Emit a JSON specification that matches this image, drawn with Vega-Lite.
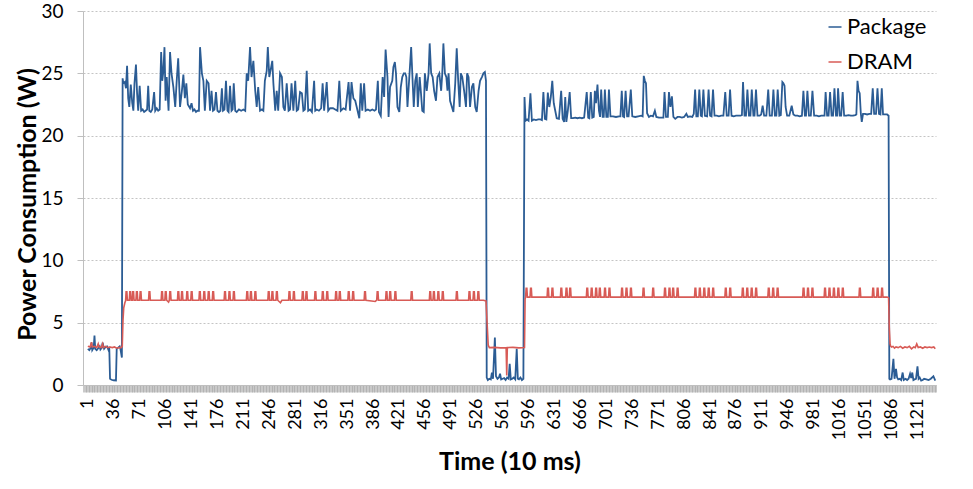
{
  "$schema": "https://vega.github.io/schema/vega-lite/v6.json",
  "width": 853,
  "height": 374,
  "autosize": {"type": "none"},
  "padding": {"left": 83, "top": 11, "right": 37, "bottom": 104},
  "background": "white",
  "config": {"font": "Lato", "view": {"stroke": null}},
  "datasets": {
    "pkg": [
      {"t":1,"v":2.9},{"t":3,"v":2.8},{"t":5,"v":3.0},{"t":6,"v":3.4},{"t":7,"v":2.8},{"t":9,"v":3.0},{"t":10,"v":3.97},{"t":11,"v":2.9},{"t":13,"v":2.8},{"t":15,"v":2.95},{"t":17,"v":3.1},{"t":18,"v":2.85},{"t":20,"v":3.0},{"t":21,"v":3.4},{"t":23,"v":2.9},{"t":25,"v":3.05},{"t":27,"v":3.1},{"t":29,"v":2.8},{"t":30,"v":2.9},{"t":31,"v":0.5},{"t":33,"v":0.42},{"t":36,"v":0.38},{"t":39,"v":0.36},{"t":40,"v":2.9},{"t":42,"v":3.0},{"t":44,"v":3.1},{"t":45,"v":2.9},{"t":47,"v":2.2},
      {"t":48,"v":24.6},{"t":49,"v":24.2},{"t":51,"v":24.3},{"t":52.5,"v":23.8},{"t":54,"v":25.6},{"t":55.5,"v":23.0},{"t":57,"v":22.3},{"t":59,"v":24.1},{"t":61,"v":22.6},{"t":62.5,"v":22.0},{"t":64,"v":24.2},{"t":66,"v":25.7},{"t":67.5,"v":23.4},{"t":69,"v":22.0},{"t":71,"v":24.0},{"t":73,"v":22.0},{"t":75,"v":22.1},{"t":77,"v":21.9},{"t":79,"v":22.0},{"t":81,"v":22.1},{"t":82.5,"v":24.0},{"t":84,"v":22.0},{"t":86,"v":21.9},{"t":88,"v":22.1},{"t":90.5,"v":23.5},{"t":92,"v":22.0},{"t":94,"v":22.2},{"t":96,"v":22.0},{"t":98,"v":22.1},
      {"t":100,"v":26.7},{"t":101.5,"v":24.4},{"t":103,"v":25.2},{"t":104.5,"v":27.1},{"t":106,"v":22.8},{"t":107.5,"v":24.7},{"t":110,"v":22.0},{"t":112,"v":26.7},{"t":114,"v":25.0},{"t":116.5,"v":23.9},{"t":119,"v":22.3},{"t":121,"v":24.4},{"t":123,"v":26.2},{"t":125.5,"v":22.3},{"t":128,"v":23.6},{"t":130,"v":24.9},{"t":132,"v":23.0},{"t":134,"v":24.2},{"t":136,"v":22.5},{"t":139,"v":22.2},{"t":141,"v":22.6},{"t":143,"v":22.0},{"t":145,"v":22.1},{"t":147,"v":21.9},{"t":149,"v":22.0},{"t":151,"v":22.0},
      {"t":152.5,"v":27.1},{"t":155,"v":25.0},{"t":157,"v":24.4},{"t":159,"v":22.0},{"t":161.5,"v":24.4},{"t":164,"v":24.2},{"t":166,"v":22.0},{"t":168,"v":23.6},{"t":170,"v":22.0},{"t":172,"v":22.1},{"t":174,"v":23.5},{"t":176,"v":22.0},{"t":178,"v":21.9},{"t":180,"v":22.0},{"t":182,"v":23.8},{"t":183.5,"v":22.0},{"t":185.5,"v":22.1},{"t":187.5,"v":24.4},{"t":189.5,"v":22.0},{"t":191,"v":21.9},{"t":193,"v":24.0},{"t":195,"v":22.0},{"t":196.5,"v":22.1},{"t":198,"v":24.2},{"t":200,"v":22.0},{"t":202,"v":21.9},{"t":205,"v":22.1},{"t":208,"v":22.0},{"t":211,"v":22.1},{"t":213.5,"v":22.0},
      {"t":215.5,"v":25.0},{"t":217.5,"v":24.4},{"t":220,"v":27.1},{"t":222,"v":24.7},{"t":224.5,"v":26.0},{"t":227,"v":23.6},{"t":229,"v":22.3},{"t":231,"v":23.9},{"t":233.5,"v":22.0},{"t":236,"v":22.1},{"t":238,"v":22.0},{"t":240,"v":24.4},{"t":242.5,"v":25.2},{"t":244,"v":27.1},{"t":246,"v":24.7},{"t":248.5,"v":25.5},{"t":250,"v":26.0},{"t":251.5,"v":24.2},{"t":254,"v":22.0},{"t":256,"v":23.6},{"t":258,"v":22.0},{"t":260.5,"v":25.0},{"t":263,"v":24.7},{"t":265,"v":22.3},{"t":267,"v":22.0},{"t":269.5,"v":24.2},{"t":272,"v":22.0},{"t":274,"v":22.1},{"t":276,"v":24.2},{"t":278.5,"v":22.0},{"t":281,"v":24.4},{"t":283,"v":22.0},{"t":285,"v":22.1},{"t":287.5,"v":23.5},{"t":290,"v":23.4},{"t":292,"v":22.0},{"t":294,"v":22.1},{"t":296.5,"v":25.2},{"t":298.5,"v":22.0},
      {"t":301,"v":22.1},{"t":303.5,"v":21.9},{"t":306.5,"v":24.4},{"t":308,"v":22.0},{"t":310,"v":22.1},{"t":313,"v":22.0},{"t":316,"v":22.2},{"t":318,"v":24.2},{"t":320,"v":22.0},{"t":323.5,"v":24.3},{"t":325.5,"v":22.0},{"t":328,"v":22.2},{"t":332,"v":22.2},{"t":335,"v":22.1},{"t":338,"v":22.0},{"t":340.5,"v":24.4},{"t":342.5,"v":22.0},{"t":346,"v":22.2},{"t":349,"v":22.1},{"t":353,"v":24.3},{"t":355,"v":22.0},{"t":357,"v":24.3},{"t":359.5,"v":23.0},{"t":362,"v":22.8},{"t":364,"v":22.3},{"t":367.5,"v":21.4},{"t":369.5,"v":24.2},{"t":371.5,"v":22.0},{"t":374,"v":24.2},{"t":376,"v":22.0},{"t":379,"v":22.1},{"t":382,"v":22.0},{"t":385,"v":22.1},{"t":388,"v":22.0},{"t":390,"v":22.1},
      {"t":392.5,"v":24.4},{"t":394,"v":21.9},{"t":396.5,"v":21.6},{"t":399,"v":24.7},{"t":401,"v":23.1},{"t":403,"v":26.9},{"t":405.5,"v":24.7},{"t":407,"v":21.5},{"t":409,"v":23.9},{"t":412,"v":24.4},{"t":413.5,"v":25.5},{"t":415.5,"v":25.9},{"t":417,"v":25.0},{"t":419,"v":22.3},{"t":421.5,"v":21.9},{"t":423.5,"v":23.9},{"t":425.5,"v":24.7},{"t":427.5,"v":25.0},{"t":429.5,"v":25.0},{"t":431,"v":24.7},{"t":432.5,"v":22.3},{"t":435,"v":24.7},{"t":437.5,"v":27.1},{"t":439,"v":25.0},{"t":441,"v":22.3},{"t":443,"v":24.4},{"t":445,"v":25.0},{"t":446.5,"v":22.3},{"t":449,"v":24.7},{"t":450.5,"v":23.6},{"t":452.5,"v":22.0},{"t":454.5,"v":21.9},{"t":456,"v":25.0},{"t":458.5,"v":23.6},{"t":461,"v":25.0},{"t":462.5,"v":27.4},{"t":464.5,"v":25.0},{"t":466.5,"v":24.7},{"t":468.5,"v":23.6},{"t":471,"v":22.8},{"t":473,"v":24.7},{"t":475.5,"v":25.0},{"t":478,"v":23.6},{"t":479.5,"v":25.0},{"t":481,"v":27.4},{"t":483,"v":25.0},{"t":485,"v":24.7},{"t":486.5,"v":23.6},{"t":488,"v":25.0},{"t":490,"v":22.8},{"t":492.5,"v":22.3},{"t":494.5,"v":21.9},{"t":497,"v":24.2},{"t":499,"v":27.0},{"t":501,"v":24.4},{"t":503,"v":22.3},{"t":504.5,"v":25.0},{"t":506.5,"v":24.7},{"t":509,"v":23.6},{"t":511.5,"v":22.3},{"t":513,"v":25.0},{"t":515,"v":24.7},{"t":517,"v":22.3},{"t":519.5,"v":23.9},{"t":521.5,"v":24.2},{"t":524,"v":22.3},{"t":526,"v":21.9},{"t":528.5,"v":23.6},{"t":530.5,"v":24.4},{"t":533,"v":24.7},{"t":535,"v":25.0},{"t":537,"v":25.1},{"t":538.5,"v":24.4},
      {"t":539.5,"v":0.6},{"t":541,"v":0.4},{"t":543,"v":0.5},{"t":545,"v":0.45},{"t":546.5,"v":1.0},{"t":548,"v":0.5},{"t":550.5,"v":3.8},{"t":552,"v":0.7},{"t":554,"v":0.5},{"t":556,"v":0.6},{"t":557.5,"v":0.9},{"t":559,"v":0.45},{"t":561,"v":0.5},{"t":563,"v":0.55},{"t":565,"v":0.4},{"t":567,"v":0.6},{"t":569,"v":0.5},{"t":570.5,"v":1.7},{"t":572,"v":0.45},{"t":574,"v":0.5},{"t":576,"v":0.6},{"t":578,"v":0.45},{"t":580,"v":2.9},{"t":581.5,"v":0.5},{"t":583,"v":0.45},{"t":585,"v":0.6},{"t":587,"v":0.4},{"t":589,"v":0.5},
      {"t":590.5,"v":23.1},{"t":592,"v":21.2},{"t":594,"v":21.3},{"t":596,"v":21.2},{"t":598.5,"v":23.4},{"t":600.5,"v":21.2},{"t":603,"v":21.3},{"t":606,"v":21.25},{"t":609,"v":21.3},{"t":612,"v":21.3},{"t":614,"v":21.25},{"t":616,"v":23.5},{"t":618,"v":21.35},{"t":620,"v":21.3},{"t":622,"v":23.45},{"t":624,"v":22.3},{"t":626,"v":23.1},{"t":628,"v":24.4},{"t":630,"v":22.6},{"t":632,"v":22.0},{"t":634,"v":21.4},{"t":637,"v":21.35},{"t":640,"v":23.6},{"t":642,"v":21.35},{"t":644,"v":21.1},{"t":645.5,"v":23.1},{"t":647,"v":21.1},{"t":649,"v":22.0},{"t":651.5,"v":23.5},{"t":653.5,"v":21.4},{"t":656,"v":21.4},{"t":659,"v":21.45},{"t":662,"v":21.4},{"t":665,"v":21.45},{"t":668,"v":21.4},{"t":671,"v":21.45},{"t":674.5,"v":23.5},{"t":676.5,"v":21.45},{"t":678,"v":21.4},{"t":680,"v":23.5},{"t":682,"v":21.45},{"t":684,"v":21.5},{"t":685.5,"v":23.6},{"t":687,"v":22.6},{"t":689,"v":24.1},{"t":691,"v":22.0},{"t":692.5,"v":21.5},{"t":694,"v":23.7},{"t":696,"v":21.5},{"t":697.5,"v":21.5},{"t":699,"v":23.7},{"t":701,"v":21.5},{"t":703,"v":21.5},{"t":704.5,"v":23.7},{"t":706.5,"v":21.55},{"t":710,"v":21.55},{"t":714,"v":21.5},{"t":718,"v":21.55},{"t":720,"v":21.55},{"t":721.8,"v":23.6},{"t":723.5,"v":21.55},{"t":725,"v":21.5},{"t":727,"v":23.6},{"t":729,"v":21.55},{"t":731,"v":21.55},{"t":734,"v":23.7},{"t":736,"v":21.55},{"t":740,"v":21.5},{"t":744,"v":21.55},{"t":748,"v":21.6},{"t":750,"v":21.55},{"t":751.5,"v":24.8},{"t":753,"v":24.4},{"t":754.5,"v":24.2},{"t":756,"v":21.8},{"t":758.5,"v":21.5},{"t":761,"v":21.6},{"t":764,"v":21.55},{"t":766.5,"v":22.0},{"t":768.5,"v":21.5},{"t":772,"v":21.45},{"t":776,"v":21.45},{"t":778,"v":21.45},{"t":779.5,"v":23.5},{"t":781.5,"v":21.5},{"t":784,"v":21.5},{"t":785.5,"v":23.5},{"t":787.5,"v":22.3},{"t":789.5,"v":23.15},{"t":791.5,"v":21.5},{"t":794,"v":21.35},{"t":797,"v":21.5},{"t":800,"v":21.5},{"t":803,"v":21.45},{"t":806,"v":21.5},{"t":809,"v":21.75},{"t":811,"v":21.5},{"t":814,"v":21.55},{"t":817,"v":21.5},{"t":819,"v":21.75},{"t":820.8,"v":23.7},{"t":822.5,"v":21.55},{"t":824.5,"v":21.55},{"t":826.5,"v":23.7},{"t":828.5,"v":21.6},{"t":830,"v":21.55},{"t":832,"v":23.7},{"t":834,"v":21.6},{"t":837,"v":21.55},{"t":839,"v":23.7},{"t":841,"v":21.6},{"t":843,"v":21.55},{"t":845,"v":23.7},{"t":847,"v":21.6},{"t":850,"v":21.6},{"t":853,"v":21.55},{"t":856,"v":21.6},{"t":859,"v":21.6},{"t":861.5,"v":23.5},{"t":863.5,"v":21.6},{"t":866,"v":21.6},{"t":868,"v":23.7},{"t":870,"v":21.6},{"t":873,"v":21.55},{"t":876,"v":21.6},{"t":879,"v":21.6},{"t":882,"v":21.6},{"t":884,"v":21.65},{"t":885.5,"v":24.3},{"t":887.5,"v":21.6},{"t":889.5,"v":21.6},{"t":891.4,"v":23.7},{"t":893.5,"v":21.6},{"t":895.5,"v":21.6},{"t":897.3,"v":23.7},{"t":899.5,"v":21.6},{"t":901,"v":21.6},{"t":903,"v":23.7},{"t":905,"v":21.6},{"t":908,"v":21.6},{"t":910,"v":21.7},{"t":912,"v":22.4},{"t":914,"v":21.6},{"t":917,"v":21.6},{"t":919.5,"v":23.7},{"t":921.5,"v":21.6},{"t":924.5,"v":21.6},{"t":926.5,"v":23.7},{"t":928.5,"v":21.6},{"t":930.5,"v":21.6},{"t":932.3,"v":23.7},{"t":934.5,"v":21.6},{"t":936.5,"v":21.65},{"t":938.6,"v":24.3},{"t":940,"v":24.2},{"t":941.5,"v":24.0},{"t":943,"v":22.3},{"t":945,"v":21.6},{"t":948,"v":21.6},{"t":951.2,"v":22.4},{"t":953.5,"v":21.7},{"t":956,"v":21.6},{"t":959,"v":21.6},{"t":962,"v":21.55},{"t":965,"v":21.6},{"t":967,"v":23.6},{"t":969,"v":21.6},{"t":970.5,"v":21.6},{"t":972.4,"v":23.6},{"t":974.5,"v":21.6},{"t":977,"v":21.6},{"t":979.2,"v":23.6},{"t":981.5,"v":21.6},{"t":985,"v":21.6},{"t":988,"v":21.55},{"t":991,"v":21.6},{"t":994,"v":21.6},{"t":995.5,"v":21.6},{"t":997,"v":23.5},{"t":999,"v":21.6},{"t":1001,"v":21.6},{"t":1003,"v":23.5},{"t":1005,"v":21.6},{"t":1007,"v":21.6},{"t":1008.9,"v":23.8},{"t":1011,"v":21.6},{"t":1012.5,"v":21.6},{"t":1013.8,"v":23.8},{"t":1016,"v":21.6},{"t":1018,"v":21.6},{"t":1020,"v":23.5},{"t":1022,"v":21.6},{"t":1025,"v":21.6},{"t":1028,"v":21.65},{"t":1031,"v":21.6},{"t":1034,"v":21.6},{"t":1037,"v":21.65},{"t":1038.5,"v":21.7},{"t":1040,"v":24.4},{"t":1041.5,"v":23.6},{"t":1043,"v":23.4},{"t":1044.5,"v":21.8},{"t":1045.8,"v":21.1},{"t":1047.5,"v":21.75},{"t":1050,"v":21.75},{"t":1053,"v":21.7},{"t":1056,"v":21.75},{"t":1058.5,"v":21.75},{"t":1060.6,"v":23.8},{"t":1062.5,"v":21.75},{"t":1065,"v":21.75},{"t":1067,"v":23.8},{"t":1069,"v":21.75},{"t":1071,"v":21.7},{"t":1072.8,"v":23.8},{"t":1074.5,"v":21.7},{"t":1077,"v":21.7},{"t":1080,"v":21.7},{"t":1082,"v":21.6},
      {"t":1083,"v":0.5},{"t":1084,"v":0.45},{"t":1086,"v":0.5},{"t":1088.5,"v":2.1},{"t":1090,"v":0.5},{"t":1092,"v":1.3},{"t":1093.5,"v":0.6},{"t":1095,"v":0.45},{"t":1097,"v":0.5},{"t":1099,"v":0.4},{"t":1101,"v":1.0},{"t":1102.5,"v":0.4},{"t":1105,"v":0.5},{"t":1107,"v":0.4},{"t":1109,"v":0.5},{"t":1111,"v":0.9},{"t":1112.5,"v":0.55},{"t":1114,"v":1.0},{"t":1115.5,"v":0.4},{"t":1117,"v":0.45},{"t":1119,"v":0.5},{"t":1121,"v":1.5},{"t":1122.5,"v":0.5},{"t":1124,"v":0.6},{"t":1126,"v":0.35},{"t":1128,"v":0.4},{"t":1130,"v":0.5},{"t":1133,"v":0.45},{"t":1136,"v":0.4},{"t":1139,"v":0.5},{"t":1142.5,"v":0.7},{"t":1145,"v":0.35}
    ],
    "dram": [
      {"t":1,"v":3.1},{"t":4,"v":3.05},{"t":6,"v":3.44},{"t":7,"v":3.05},{"t":10,"v":3.1},{"t":13,"v":3.0},{"t":15,"v":3.3},{"t":16,"v":3.05},{"t":19,"v":3.0},{"t":21,"v":3.3},{"t":22,"v":3.0},{"t":25,"v":3.1},{"t":28,"v":3.0},{"t":31,"v":3.05},{"t":34,"v":3.0},{"t":37,"v":3.05},{"t":40,"v":2.95},{"t":43,"v":3.0},{"t":46,"v":3.0},{"t":47.5,"v":3.1},{"t":48.5,"v":5.2},{"t":49.5,"v":6.2},{"t":51,"v":6.6},
      {"t":52,"v":6.75},{"t":52.7,"v":7.48},{"t":53.7,"v":7.48},{"t":54.4,"v":6.8},
      {"t":57,"v":6.8},{"t":57.7,"v":7.48},{"t":58.7,"v":7.48},{"t":59.4,"v":6.8},
      {"t":61,"v":6.8},{"t":61.7,"v":7.48},{"t":62.7,"v":7.48},{"t":63.4,"v":6.8},
      {"t":66,"v":6.8},{"t":66.7,"v":7.48},{"t":67.7,"v":7.48},{"t":68.4,"v":6.8},
      {"t":71,"v":6.8},{"t":71.7,"v":7.48},{"t":72.7,"v":7.48},{"t":73.4,"v":6.8},
      {"t":83,"v":6.8},{"t":83.7,"v":7.48},{"t":84.7,"v":7.48},{"t":85.4,"v":6.8},
      {"t":100,"v":6.8},{"t":100.7,"v":7.48},{"t":101.7,"v":7.48},{"t":102.4,"v":6.8},
      {"t":105,"v":6.8},{"t":105.7,"v":7.48},{"t":106.7,"v":7.48},{"t":107.4,"v":6.8},
      {"t":110,"v":6.65},
      {"t":111,"v":6.8},{"t":111.7,"v":7.48},{"t":112.7,"v":7.48},{"t":113.4,"v":6.8},
      {"t":122,"v":6.8},{"t":122.7,"v":7.48},{"t":123.7,"v":7.48},{"t":124.4,"v":6.8},
      {"t":127,"v":6.8},{"t":127.7,"v":7.48},{"t":128.7,"v":7.48},{"t":129.4,"v":6.8},
      {"t":134,"v":6.8},{"t":134.7,"v":7.48},{"t":135.7,"v":7.48},{"t":136.4,"v":6.8},
      {"t":140,"v":6.8},{"t":140.7,"v":7.48},{"t":141.7,"v":7.48},{"t":142.4,"v":6.8},
      {"t":151,"v":6.8},{"t":151.7,"v":7.48},{"t":152.7,"v":7.48},{"t":153.4,"v":6.8},
      {"t":157,"v":6.8},{"t":157.7,"v":7.48},{"t":158.7,"v":7.48},{"t":159.4,"v":6.8},
      {"t":163,"v":6.8},{"t":163.7,"v":7.48},{"t":164.7,"v":7.48},{"t":165.4,"v":6.8},
      {"t":169,"v":6.8},{"t":169.7,"v":7.48},{"t":170.7,"v":7.48},{"t":171.4,"v":6.8},
      {"t":185,"v":6.8},{"t":185.7,"v":7.48},{"t":186.7,"v":7.48},{"t":187.4,"v":6.8},
      {"t":191,"v":6.8},{"t":191.7,"v":7.48},{"t":192.7,"v":7.48},{"t":193.4,"v":6.8},
      {"t":197,"v":6.8},{"t":197.7,"v":7.48},{"t":198.7,"v":7.48},{"t":199.4,"v":6.8},
      {"t":215,"v":6.8},{"t":215.7,"v":7.48},{"t":216.7,"v":7.48},{"t":217.4,"v":6.8},
      {"t":220,"v":6.8},{"t":220.7,"v":7.48},{"t":221.7,"v":7.48},{"t":222.4,"v":6.8},
      {"t":226,"v":6.8},{"t":226.7,"v":7.48},{"t":227.7,"v":7.48},{"t":228.4,"v":6.8},
      {"t":244,"v":6.8},{"t":244.7,"v":7.48},{"t":245.7,"v":7.48},{"t":246.4,"v":6.8},
      {"t":249,"v":6.8},{"t":249.7,"v":7.48},{"t":250.7,"v":7.48},{"t":251.4,"v":6.8},
      {"t":255,"v":6.8},{"t":255.7,"v":7.48},{"t":256.7,"v":7.48},{"t":257.4,"v":6.8},
      {"t":261,"v":6.6},{"t":263,"v":6.8},
      {"t":272,"v":6.8},{"t":272.7,"v":7.48},{"t":273.7,"v":7.48},{"t":274.4,"v":6.8},
      {"t":278,"v":6.8},{"t":278.7,"v":7.48},{"t":279.7,"v":7.48},{"t":280.4,"v":6.8},
      {"t":290,"v":6.8},{"t":290.7,"v":7.48},{"t":291.7,"v":7.48},{"t":292.4,"v":6.8},
      {"t":295,"v":6.8},{"t":295.7,"v":7.48},{"t":296.7,"v":7.48},{"t":297.4,"v":6.8},
      {"t":307,"v":6.8},{"t":307.7,"v":7.48},{"t":308.7,"v":7.48},{"t":309.4,"v":6.8},
      {"t":317,"v":6.8},{"t":317.7,"v":7.48},{"t":318.7,"v":7.48},{"t":319.4,"v":6.8},
      {"t":323,"v":6.8},{"t":323.7,"v":7.48},{"t":324.7,"v":7.48},{"t":325.4,"v":6.8},
      {"t":335,"v":6.8},{"t":335.7,"v":7.48},{"t":336.7,"v":7.48},{"t":337.4,"v":6.8},
      {"t":340,"v":6.8},{"t":340.7,"v":7.48},{"t":341.7,"v":7.48},{"t":342.4,"v":6.8},
      {"t":352,"v":6.8},{"t":352.7,"v":7.48},{"t":353.7,"v":7.48},{"t":354.4,"v":6.8},
      {"t":358,"v":6.8},{"t":358.7,"v":7.48},{"t":359.7,"v":7.48},{"t":360.4,"v":6.8},
      {"t":374,"v":6.8},{"t":374.7,"v":7.48},{"t":375.7,"v":7.48},{"t":376.4,"v":6.8},
      {"t":389,"v":6.7},
      {"t":391,"v":6.8},{"t":391.7,"v":7.48},{"t":392.7,"v":7.48},{"t":393.4,"v":6.8},
      {"t":403,"v":6.8},{"t":403.7,"v":7.48},{"t":404.7,"v":7.48},{"t":405.4,"v":6.8},
      {"t":408,"v":6.8},{"t":408.7,"v":7.48},{"t":409.7,"v":7.48},{"t":410.4,"v":6.8},
      {"t":415,"v":6.8},{"t":415.7,"v":7.48},{"t":416.7,"v":7.48},{"t":417.4,"v":6.8},
      {"t":437,"v":6.8},{"t":437.7,"v":7.48},{"t":438.7,"v":7.48},{"t":439.4,"v":6.8},
      {"t":462,"v":6.8},{"t":462.7,"v":7.48},{"t":463.7,"v":7.48},{"t":464.4,"v":6.8},
      {"t":467,"v":6.8},{"t":467.7,"v":7.48},{"t":468.7,"v":7.48},{"t":469.4,"v":6.8},
      {"t":473,"v":6.8},{"t":473.7,"v":7.48},{"t":474.7,"v":7.48},{"t":475.4,"v":6.8},
      {"t":479,"v":6.8},{"t":479.7,"v":7.48},{"t":480.7,"v":7.48},{"t":481.4,"v":6.8},
      {"t":498,"v":6.8},{"t":498.7,"v":7.48},{"t":499.7,"v":7.48},{"t":500.4,"v":6.8},
      {"t":515,"v":6.8},{"t":515.7,"v":7.48},{"t":516.7,"v":7.48},{"t":517.4,"v":6.8},
      {"t":521,"v":6.8},{"t":521.7,"v":7.48},{"t":522.7,"v":7.48},{"t":523.4,"v":6.8},
      {"t":527,"v":6.8},{"t":527.7,"v":7.48},{"t":528.7,"v":7.48},{"t":529.4,"v":6.8},
      {"t":535,"v":6.8},{"t":538.5,"v":6.75},{"t":540,"v":5.0},{"t":541.5,"v":3.2},{"t":543,"v":3.0},{"t":550,"v":3.02},{"t":558,"v":2.98},{"t":565.7,"v":3.0},{"t":566.5,"v":0.76},{"t":567.3,"v":3.0},{"t":575,"v":3.02},{"t":583,"v":2.98},{"t":590.5,"v":3.0},{"t":591.3,"v":6.9},
      {"t":592,"v":7.05},{"t":592.7,"v":7.75},{"t":593.7,"v":7.75},{"t":594.4,"v":7.05},
      {"t":598,"v":7.05},{"t":598.7,"v":7.75},{"t":599.7,"v":7.75},{"t":600.4,"v":7.05},
      {"t":621,"v":7.05},{"t":621.7,"v":7.75},{"t":622.7,"v":7.75},{"t":623.4,"v":7.05},
      {"t":627,"v":7.05},{"t":627.7,"v":7.75},{"t":628.7,"v":7.75},{"t":629.4,"v":7.05},
      {"t":639,"v":7.05},{"t":639.7,"v":7.75},{"t":640.7,"v":7.75},{"t":641.4,"v":7.05},
      {"t":646,"v":7.05},{"t":646.7,"v":7.75},{"t":647.7,"v":7.75},{"t":648.4,"v":7.05},
      {"t":651,"v":7.05},{"t":651.7,"v":7.75},{"t":652.7,"v":7.75},{"t":653.4,"v":7.05},
      {"t":674,"v":7.05},{"t":674.7,"v":7.75},{"t":675.7,"v":7.75},{"t":676.4,"v":7.05},
      {"t":680,"v":7.05},{"t":680.7,"v":7.75},{"t":681.7,"v":7.75},{"t":682.4,"v":7.05},
      {"t":686,"v":7.05},{"t":686.7,"v":7.75},{"t":687.7,"v":7.75},{"t":688.4,"v":7.05},
      {"t":691,"v":7.05},{"t":691.7,"v":7.75},{"t":692.7,"v":7.75},{"t":693.4,"v":7.05},
      {"t":698,"v":7.05},{"t":698.7,"v":7.75},{"t":699.7,"v":7.75},{"t":700.4,"v":7.05},
      {"t":704,"v":7.05},{"t":704.7,"v":7.75},{"t":705.7,"v":7.75},{"t":706.4,"v":7.05},
      {"t":721,"v":7.05},{"t":721.7,"v":7.75},{"t":722.7,"v":7.75},{"t":723.4,"v":7.05},
      {"t":727,"v":7.05},{"t":727.7,"v":7.75},{"t":728.7,"v":7.75},{"t":729.4,"v":7.05},
      {"t":733,"v":7.05},{"t":733.7,"v":7.75},{"t":734.7,"v":7.75},{"t":735.4,"v":7.05},
      {"t":750,"v":7.05},{"t":750.7,"v":7.75},{"t":751.7,"v":7.75},{"t":752.4,"v":7.05},
      {"t":763,"v":7.05},{"t":763.7,"v":7.75},{"t":764.7,"v":7.75},{"t":765.4,"v":7.05},
      {"t":779,"v":7.05},{"t":779.7,"v":7.75},{"t":780.7,"v":7.75},{"t":781.4,"v":7.05},
      {"t":785,"v":7.05},{"t":785.7,"v":7.75},{"t":786.7,"v":7.75},{"t":787.4,"v":7.05},
      {"t":790,"v":7.05},{"t":790.7,"v":7.75},{"t":791.7,"v":7.75},{"t":792.4,"v":7.05},
      {"t":796,"v":7.05},{"t":796.7,"v":7.75},{"t":797.7,"v":7.75},{"t":798.4,"v":7.05},
      {"t":820,"v":7.05},{"t":820.7,"v":7.75},{"t":821.7,"v":7.75},{"t":822.4,"v":7.05},
      {"t":826,"v":7.05},{"t":826.7,"v":7.75},{"t":827.7,"v":7.75},{"t":828.4,"v":7.05},
      {"t":832,"v":7.05},{"t":832.7,"v":7.75},{"t":833.7,"v":7.75},{"t":834.4,"v":7.05},
      {"t":838,"v":7.05},{"t":838.7,"v":7.75},{"t":839.7,"v":7.75},{"t":840.4,"v":7.05},
      {"t":844,"v":7.05},{"t":844.7,"v":7.75},{"t":845.7,"v":7.75},{"t":846.4,"v":7.05},
      {"t":861,"v":7.05},{"t":861.7,"v":7.75},{"t":862.7,"v":7.75},{"t":863.4,"v":7.05},
      {"t":867,"v":7.05},{"t":867.7,"v":7.75},{"t":868.7,"v":7.75},{"t":869.4,"v":7.05},
      {"t":884,"v":7.05},{"t":884.7,"v":7.75},{"t":885.7,"v":7.75},{"t":886.4,"v":7.05},
      {"t":890,"v":7.05},{"t":890.7,"v":7.75},{"t":891.7,"v":7.75},{"t":892.4,"v":7.05},
      {"t":896,"v":7.05},{"t":896.7,"v":7.75},{"t":897.7,"v":7.75},{"t":898.4,"v":7.05},
      {"t":902,"v":7.05},{"t":902.7,"v":7.75},{"t":903.7,"v":7.75},{"t":904.4,"v":7.05},
      {"t":919,"v":7.05},{"t":919.7,"v":7.75},{"t":920.7,"v":7.75},{"t":921.4,"v":7.05},
      {"t":925,"v":7.05},{"t":925.7,"v":7.75},{"t":926.7,"v":7.75},{"t":927.4,"v":7.05},
      {"t":931,"v":7.05},{"t":931.7,"v":7.75},{"t":932.7,"v":7.75},{"t":933.4,"v":7.05},
      {"t":966,"v":7.05},{"t":966.7,"v":7.75},{"t":967.7,"v":7.75},{"t":968.4,"v":7.05},
      {"t":972,"v":7.05},{"t":972.7,"v":7.75},{"t":973.7,"v":7.75},{"t":974.4,"v":7.05},
      {"t":978,"v":7.05},{"t":978.7,"v":7.75},{"t":979.7,"v":7.75},{"t":980.4,"v":7.05},
      {"t":995,"v":7.05},{"t":995.7,"v":7.75},{"t":996.7,"v":7.75},{"t":997.4,"v":7.05},
      {"t":1001,"v":7.05},{"t":1001.7,"v":7.75},{"t":1002.7,"v":7.75},{"t":1003.4,"v":7.05},
      {"t":1007,"v":7.05},{"t":1007.7,"v":7.75},{"t":1008.7,"v":7.75},{"t":1009.4,"v":7.05},
      {"t":1013,"v":7.05},{"t":1013.7,"v":7.75},{"t":1014.7,"v":7.75},{"t":1015.4,"v":7.05},
      {"t":1019,"v":7.05},{"t":1019.7,"v":7.75},{"t":1020.7,"v":7.75},{"t":1021.4,"v":7.05},
      {"t":1042,"v":7.05},{"t":1042.7,"v":7.75},{"t":1043.7,"v":7.75},{"t":1044.4,"v":7.05},
      {"t":1060,"v":7.05},{"t":1060.7,"v":7.75},{"t":1061.7,"v":7.75},{"t":1062.4,"v":7.05},
      {"t":1066,"v":7.05},{"t":1066.7,"v":7.75},{"t":1067.7,"v":7.75},{"t":1068.4,"v":7.05},
      {"t":1072,"v":7.05},{"t":1072.7,"v":7.75},{"t":1073.7,"v":7.75},{"t":1074.4,"v":7.05},
      {"t":1080,"v":7.05},{"t":1082,"v":7.0},{"t":1083,"v":4.5},{"t":1084,"v":3.3},{"t":1085,"v":3.1},{"t":1086,"v":3.05},{"t":1088,"v":3.1},{"t":1090,"v":2.95},{"t":1092,"v":3.05},{"t":1095,"v":3.0},{"t":1098,"v":3.1},{"t":1101,"v":2.95},{"t":1104,"v":3.05},{"t":1107,"v":3.0},{"t":1110,"v":3.1},{"t":1113,"v":2.9},{"t":1116,"v":3.05},{"t":1118,"v":3.0},{"t":1120,"v":3.3},{"t":1122,"v":3.0},{"t":1125,"v":3.05},{"t":1128,"v":2.95},{"t":1131,"v":3.05},{"t":1134,"v":3.0},{"t":1137,"v":3.05},{"t":1140,"v":3.0},{"t":1143,"v":3.05},{"t":1145,"v":2.9}
    ]
  },
  "encoding": {
    "x": {
      "field": "t",
      "type": "quantitative",
      "scale": {"domain": [-5.5, 1146], "nice": false, "zero": false},
      "axis": {
        "title": "Time (10 ms)",
        "titleFont": "Lato",
        "titleFontSize": 25,
        "titleFontWeight": "bold",
        "titleColor": "#000000",
        "titlePadding": 10,
        "tickCount": 1200,
        "labelExpr": "(datum.value >= 1 && (datum.value - 1) % 35 === 0) ? '' + datum.value : ''",
        "labelAngle": -90,
        "labelFontSize": 18,
        "labelColor": "#000000",
        "labelOverlap": false,
        "labelBound": false,
        "labelFlush": false,
        "labelPadding": 6,
        "tickSize": 7,
        "tickWidth": 0.6,
        "tickColor": "#a4a4a4",
        "domainColor": "#bfbfbf",
        "grid": false
      }
    },
    "y": {
      "field": "v",
      "type": "quantitative",
      "scale": {"domain": [0, 30], "nice": false},
      "axis": {
        "title": "Power Consumption (W)",
        "titleFont": "Lato",
        "titleFontSize": 25,
        "titleFontWeight": "bold",
        "titleColor": "#000000",
        "titleAngle": -90,
        "titleAlign": "center",
        "titleBaseline": "middle",
        "titleX": -56,
        "titleY": 193,
        "values": [0, 5, 10, 15, 20, 25, 30],
        "labelFontSize": 19,
        "labelColor": "#000000",
        "labelPadding": 14,
        "tickSize": 6,
        "tickColor": "#bfbfbf",
        "domainColor": "#bfbfbf",
        "grid": true,
        "gridDash": [2, 2],
        "gridColor": "#c4c4c4"
      }
    }
  },
  "layer": [
    {
      "data": {"name": "pkg"},
      "mark": {"type": "line", "strokeWidth": 1.8},
      "encoding": {
        "color": {
          "datum": "Package",
          "type": "nominal",
          "scale": {"domain": ["Package", "DRAM"], "range": ["#2b5c94", "#d85b56"]},
          "legend": {
            "title": null,
            "orient": "none",
            "legendX": 741,
            "legendY": 5,
            "padding": 0,
            "symbolType": "stroke",
            "symbolSize": 169,
            "symbolStrokeWidth": 1.5,
            "symbolOffset": 0,
            "labelFont": "Lato",
            "labelFontSize": 22,
            "labelColor": "#000000",
            "labelOffset": 1,
            "rowPadding": 13
          }
        }
      }
    },
    {
      "data": {"name": "dram"},
      "mark": {"type": "line", "strokeWidth": 1.6},
      "encoding": {"color": {"datum": "DRAM", "type": "nominal"}}
    }
  ]
}
